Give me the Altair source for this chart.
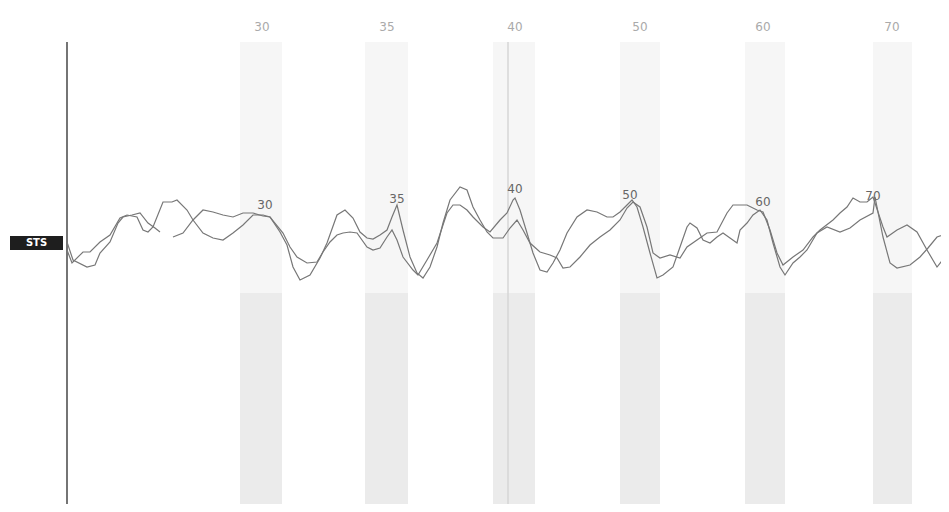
import altair as alt
import pandas as pd

# ---- data (t: time units, v: amplitude units) ----
line_a_t = [0, 5, 16, 23, 33, 43, 53, 60, 70, 76, 81, 86, 96, 105, 110, 120, 126, 136, 146, 156, 166, 176, 186, 196, 203,
            213, 220, 226, 233, 243, 253, 260, 270, 278, 286, 293, 300, 306, 313, 320, 325, 330,
            336, 343, 350, 356, 363, 370, 376, 383, 393, 400, 406, 413, 420, 426, 436, 443, 450, 456, 463, 473, 483, 490, 496, 503, 513, 523, 533, 543, 553, 560, 566,
            573, 580, 586, 593, 603, 613, 620, 630, 640, 650, 660, 666, 680, 690, 696, 703, 710, 716, 726, 736, 746, 753, 766, 773, 780, 786, 793, 800, 806,
            816, 820, 830, 840, 850, 860, 870, 878, 883]
line_a_v = [-7, -20, -9, -9, 1, 8, 25, 28, 26, 13, 11, 16, 41, 41, 43, 33, 23, 10, 5, 3, 10, 18, 28, 28, 26,
            11, -2, -24, -37, -32, -15, 0, 28, 33, 25, 11, 5, 4, 8, 13, 26, 38,
            13, -14, -30, -35, -24, -4, 20, 43, 56, 53, 36, 23, 11, 5, 5, 15, 23, 13, 0, -9, -12, -15, -25, -24, -14, -2, 6, 13, 23, 35, 41,
            36, 16, -10, -15, -12, -15, -4, 3, 10, 11, 30, 38, 38, 33, 31, 13, -10, -22, -14, -7, 6, 13, 23, 30, 36, 45, 41, 41, 46,
            16, 6, 13, 18, 11, -7, -24, -14, -4]

line_b1_t = [0, 6, 20, 28, 33, 43, 51, 56, 65, 73, 81, 88, 93]
line_b1_v = [1, -17, -24, -22, -10, 1, 20, 26, 28, 30, 20, 15, 11]

line_b2_t = [106, 116, 126, 136, 146, 156, 166, 176, 186, 196, 203,
             216, 223, 230, 240, 250, 256, 263, 270, 276, 283, 290, 300, 306, 313, 320, 325, 330, 336, 346, 351, 360, 370, 380, 386, 393, 400, 406, 416, 423, 433, 440, 446, 448,
             453, 460, 466, 473, 480, 486, 493, 500, 510, 520, 530, 540, 546, 553, 560, 565,
             570, 576, 583, 590, 596, 606, 613, 620, 623, 630, 636, 643, 650, 656, 663, 670, 673, 680, 686, 693, 700, 706, 713, 718, 726, 733, 740, 750, 760, 773, 783, 793, 806, 808,
             816, 823, 830, 843, 853, 861, 870, 881]
line_b2_v = [6, 10, 23, 33, 31, 28, 26, 30, 30, 27, 26,
             10, -4, -14, -20, -19, -9, 1, 8, 10, 11, 10, -4, -7, -5, 6, 13, 3, -14, -27, -32, -17, 0, 30, 38, 38, 33, 26, 16, 11, 23, 30, 43, 45,
             33, 10, -10, -27, -29, -20, -7, 10, 26, 33, 31, 26, 26, 31, 38, 43,
             36, 16, -10, -35, -32, -24, -4, 16, 20, 15, 3, 0, 6, 10, 5, 0, 13, 20, 28, 33, 23, 0, -24, -32, -20, -14, -7, 10, 16, 11, 15, 23, 30, 46,
             6, -20, -25, -22, -14, -5, 6, 10]

peak_labels = ["30", "35", "40", "50", "60", "70"]
peak_t = [198, 330, 448, 563, 696, 806]
peak_v = [38, 44, 54, 48, 41, 47]

top_t = [195, 320, 448, 573, 696, 825]

band_start = [173, 298, 426, 553, 678, 806]
band_end = [215, 341, 468, 593, 718, 845]

marker_t = [441]

X_DOM = [-59, 874]
Y_DOM = [-261, 235]
TOP_V = 216
BAND_TOP = 201
BAND_SPLIT = -50
AXIS_TOP = 201

xs = alt.Scale(domain=X_DOM, nice=False, zero=False)
ys = alt.Scale(domain=Y_DOM, nice=False, zero=False)

lines_df = pd.concat([
    pd.DataFrame({"t": line_a_t, "v": line_a_v, "s": "A"}),
    pd.DataFrame({"t": line_b1_t, "v": line_b1_v, "s": "B1"}),
    pd.DataFrame({"t": line_b2_t, "v": line_b2_v, "s": "B2"}),
], ignore_index=True)

bands_df = pd.DataFrame({"t0": band_start, "t1": band_end})
bands_up = bands_df.assign(y0=BAND_TOP, y1=BAND_SPLIT)
bands_lo = bands_df.assign(y0=BAND_SPLIT, y1=Y_DOM[0])

band_upper = alt.Chart(bands_up).mark_rect(color="#f6f6f6").encode(
    x=alt.X("t0:Q", scale=xs, axis=None), x2="t1:Q",
    y=alt.Y("y0:Q", scale=ys, axis=None), y2="y1:Q")
band_lower = alt.Chart(bands_lo).mark_rect(color="#ebebeb").encode(
    x=alt.X("t0:Q", scale=xs, axis=None), x2="t1:Q",
    y=alt.Y("y0:Q", scale=ys, axis=None), y2="y1:Q")

marker = alt.Chart(pd.DataFrame({"t": marker_t, "y0": [AXIS_TOP], "y1": [Y_DOM[0]]})).mark_rule(
    color="#d6d6d6", strokeWidth=1.5).encode(
    x=alt.X("t:Q", scale=xs, axis=None),
    y=alt.Y("y0:Q", scale=ys, axis=None), y2="y1:Q")

axis_line = alt.Chart(pd.DataFrame({"t": [0], "y0": [AXIS_TOP], "y1": [Y_DOM[0]]})).mark_rule(
    color="#3a3a3a", strokeWidth=1.4).encode(
    x=alt.X("t:Q", scale=xs, axis=None),
    y=alt.Y("y0:Q", scale=ys, axis=None), y2="y1:Q")

traces = alt.Chart(lines_df).mark_line(color="#777777", strokeWidth=1.2, clip=True).encode(
    x=alt.X("t:Q", scale=xs, axis=None),
    y=alt.Y("v:Q", scale=ys, axis=None),
    detail="s:N", order="t:Q")

peaks = alt.Chart(pd.DataFrame({"t": peak_t, "v": peak_v, "lab": peak_labels})).mark_text(
    font="DejaVu Sans", fontSize=12, color="#666666", baseline="middle", align="center").encode(
    x=alt.X("t:Q", scale=xs, axis=None),
    y=alt.Y("v:Q", scale=ys, axis=None), text="lab:N")

tops = alt.Chart(pd.DataFrame({"t": top_t, "v": [TOP_V] * len(top_t), "lab": peak_labels})).mark_text(
    font="DejaVu Sans", fontSize=12, color="#aaaaaa", baseline="middle", align="center").encode(
    x=alt.X("t:Q", scale=xs, axis=None),
    y=alt.Y("v:Q", scale=ys, axis=None), text="lab:N")

sts_box = alt.Chart(pd.DataFrame({"t0": [-57], "t1": [-4], "y0": [7], "y1": [-7]})).mark_rect(
    color="#1e1e1e").encode(
    x=alt.X("t0:Q", scale=xs, axis=None), x2="t1:Q",
    y=alt.Y("y0:Q", scale=ys, axis=None), y2="y1:Q")
sts_text = alt.Chart(pd.DataFrame({"t": [-30.5], "v": [0], "lab": ["STS"]})).mark_text(
    font="DejaVu Sans", fontSize=10, fontWeight="bold", color="white", baseline="middle", align="center").encode(
    x=alt.X("t:Q", scale=xs, axis=None),
    y=alt.Y("v:Q", scale=ys, axis=None), text="lab:N")

chart = alt.layer(band_upper, band_lower, marker, axis_line, traces, peaks, tops, sts_box, sts_text).properties(
    width=933, height=496, autosize=alt.AutoSizeParams(type="none"), padding=0,
    background="white").configure_view(stroke=None)

chart.save("out.html", embed_options={"renderer": "svg", "actions": False})
